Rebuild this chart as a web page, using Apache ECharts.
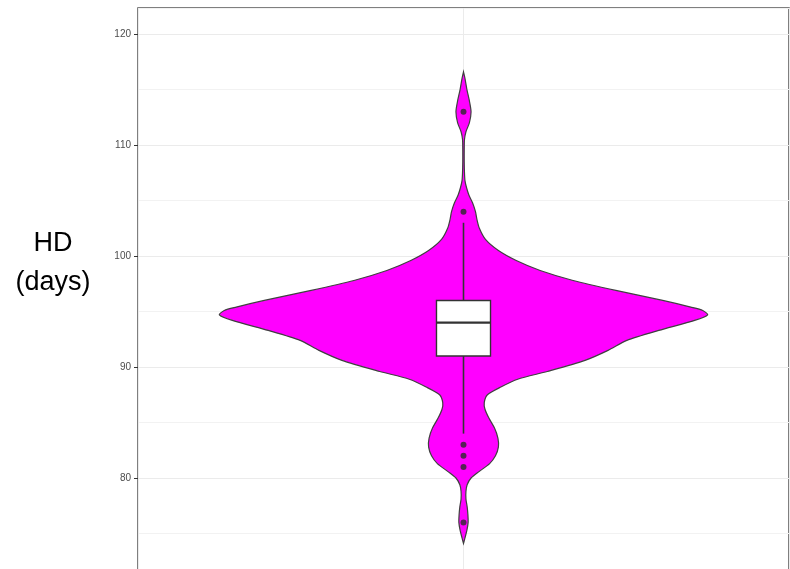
<!DOCTYPE html>
<html>
<head>
<meta charset="utf-8">
<script src="https://cdn.jsdelivr.net/npm/echarts@6/dist/echarts.min.js"></script>
<style>
  html, body { margin: 0; padding: 0; background: #ffffff; }
  #chart { width: 790px; height: 569px; }
</style>
</head>
<body>
<div id="chart"></div>
<script>
// Heading date (HD, days): violin plot with an overlaid boxplot.

// Labelled ticks on the value axis
const yTicks = [80, 90, 100, 110, 120];

// Boxplot summary: lower whisker, Q1, median, Q3, upper whisker
const boxStats = [84, 91, 94, 96, 103];

// Points beyond the whiskers
const outliers = [113, 104, 83, 82, 81, 76];

// Kernel density outline: HD level and scaled density (1 = widest)
const densityLevels = [
  116.6, 116.0, 115.0, 114.0, 113.0, 112.0, 111.2, 110.5, 109.5, 108.5,
  107.5, 106.8, 106.2, 105.5, 104.8, 104.0, 103.3, 102.5, 101.5, 100.5,
  99.6, 98.7, 97.8, 96.9, 96.0, 95.4, 95.1, 94.7, 94.2, 93.3,
  92.4, 91.5, 90.6, 89.6, 88.9, 88.2, 87.5, 86.8, 86.2, 85.4,
  84.5, 83.6, 82.8, 82.0, 81.3, 80.6, 80.0, 79.4, 78.8, 78.1,
  77.4, 76.7, 76.0, 75.3, 74.6, 74.1
];
const densityWidths = [
  0.000, 0.006, 0.014, 0.024, 0.031, 0.024, 0.010, 0.004, 0.003, 0.003,
  0.004, 0.006, 0.012, 0.022, 0.037, 0.049, 0.055, 0.065, 0.090, 0.143,
  0.216, 0.314, 0.449, 0.624, 0.816, 0.931, 0.980, 1.000, 0.947, 0.800,
  0.669, 0.592, 0.498, 0.343, 0.222, 0.153, 0.098, 0.085, 0.088, 0.104,
  0.127, 0.141, 0.143, 0.131, 0.107, 0.065, 0.031, 0.015, 0.010, 0.010,
  0.015, 0.018, 0.019, 0.014, 0.006, 0.000
];

// Horizontal layout in x-axis units: the panel spans 0..2, the group sits at 1
const CENTER = 1;
const VIOLIN_HALF = 0.75;
const BOX_HALF = 0.083;

const Y_MIN = 70, Y_MAX = 122.35;
const INK = '#333333';
const GRID_MAJOR = '#ebebeb';
const GRID_MINOR = '#f2f2f2';

const chart = echarts.init(document.getElementById('chart'), null, { renderer: 'canvas' });

const option = {
  animation: false,
  backgroundColor: '#ffffff',
  title: {
    text: 'HD\n(days)',
    left: 53,
    top: 224,
    padding: 0,
    textAlign: 'center',
    textVerticalAlign: 'top',
    textStyle: {
      fontFamily: 'Liberation Sans',
      fontSize: 27,
      fontWeight: 'normal',
      color: '#000000',
      lineHeight: 39
    }
  },
  grid: [
    {
      left: 138, right: 1, top: 8, bottom: -20,
      outerBoundsMode: 'none',
      show: true, borderColor: '#555555', borderWidth: 1.5,
      backgroundColor: 'transparent'
    },
    {
      // same pixel scale, shifted range: carries the minor gridlines
      left: 138, right: 1, top: 8, bottom: -20 - 5 * (581 / (Y_MAX - Y_MIN)),
      outerBoundsMode: 'none',
      show: false
    }
  ],
  xAxis: [
    {
      gridIndex: 0, type: 'value', min: 0, max: 2, interval: 1,
      axisLine: { show: false }, axisTick: { show: false }, axisLabel: { show: false },
      splitLine: { show: true, lineStyle: { color: GRID_MAJOR, width: 1 } }
    },
    {
      gridIndex: 1, type: 'value', min: 0, max: 2, show: false
    }
  ],
  yAxis: [
    {
      gridIndex: 0, type: 'value', min: Y_MIN, max: Y_MAX, interval: 10,
      axisLine: { show: false },
      axisTick: { show: true, length: 4, lineStyle: { color: INK, width: 1 }, customValues: yTicks },
      axisLabel: {
        show: true, margin: 7,
        color: '#4d4d4d', fontFamily: 'Liberation Sans', fontSize: 10,
        customValues: yTicks,
        formatter: v => (yTicks.indexOf(v) >= 0 ? String(v) : '')
      },
      splitLine: { show: true, lineStyle: { color: GRID_MAJOR, width: 1.2 } }
    },
    {
      gridIndex: 1, type: 'value', min: Y_MIN - 5, max: Y_MAX, interval: 10,
      axisLine: { show: false }, axisTick: { show: false }, axisLabel: { show: false },
      splitLine: { show: true, lineStyle: { color: GRID_MINOR, width: 1 } }
    }
  ],
  series: [
    {
      // violin body
      type: 'custom',
      xAxisIndex: 0, yAxisIndex: 0,
      data: [[CENTER, boxStats[2]]],
      z: 2,
      renderItem: function (params, api) {
        const right = densityLevels.map((v, i) => api.coord([CENTER + densityWidths[i] * VIOLIN_HALF, v]));
        const left = densityLevels.map((v, i) => api.coord([CENTER - densityWidths[i] * VIOLIN_HALF, v])).reverse();
        return {
          type: 'polygon',
          shape: { points: right.concat(left), smooth: 0.25 },
          style: { fill: '#ff00ff', stroke: '#404040', lineWidth: 1.2 }
        };
      }
    },
    {
      // boxplot: whiskers, box, median
      type: 'custom',
      xAxisIndex: 0, yAxisIndex: 0,
      data: [[CENTER].concat(boxStats)],
      z: 3,
      renderItem: function (params, api) {
        const x = api.value(0);
        const lo = api.coord([x, api.value(1)]);
        const q1 = api.coord([x, api.value(2)]);
        const med = api.coord([x, api.value(3)]);
        const q3 = api.coord([x, api.value(4)]);
        const hi = api.coord([x, api.value(5)]);
        const xl = api.coord([x - BOX_HALF, api.value(3)])[0];
        const xr = api.coord([x + BOX_HALF, api.value(3)])[0];
        return {
          type: 'group',
          children: [
            { type: 'line', shape: { x1: q3[0], y1: q3[1], x2: hi[0], y2: hi[1] },
              style: { stroke: INK, lineWidth: 1.6 } },
            { type: 'line', shape: { x1: q1[0], y1: q1[1], x2: lo[0], y2: lo[1] },
              style: { stroke: INK, lineWidth: 1.6 } },
            { type: 'rect', shape: { x: xl, y: q3[1], width: xr - xl, height: q1[1] - q3[1] },
              style: { fill: '#ffffff', stroke: INK, lineWidth: 1.4 } },
            { type: 'line', shape: { x1: xl, y1: med[1], x2: xr, y2: med[1] },
              style: { stroke: INK, lineWidth: 2.4 } }
          ]
        };
      }
    },
    {
      type: 'scatter',
      xAxisIndex: 0, yAxisIndex: 0,
      data: outliers.map(v => [CENTER, v]),
      symbol: 'circle',
      symbolSize: 6,
      itemStyle: { color: '#2b2b2b' },
      z: 4
    }
  ]
};

chart.setOption(option);
</script>
</body>
</html>
